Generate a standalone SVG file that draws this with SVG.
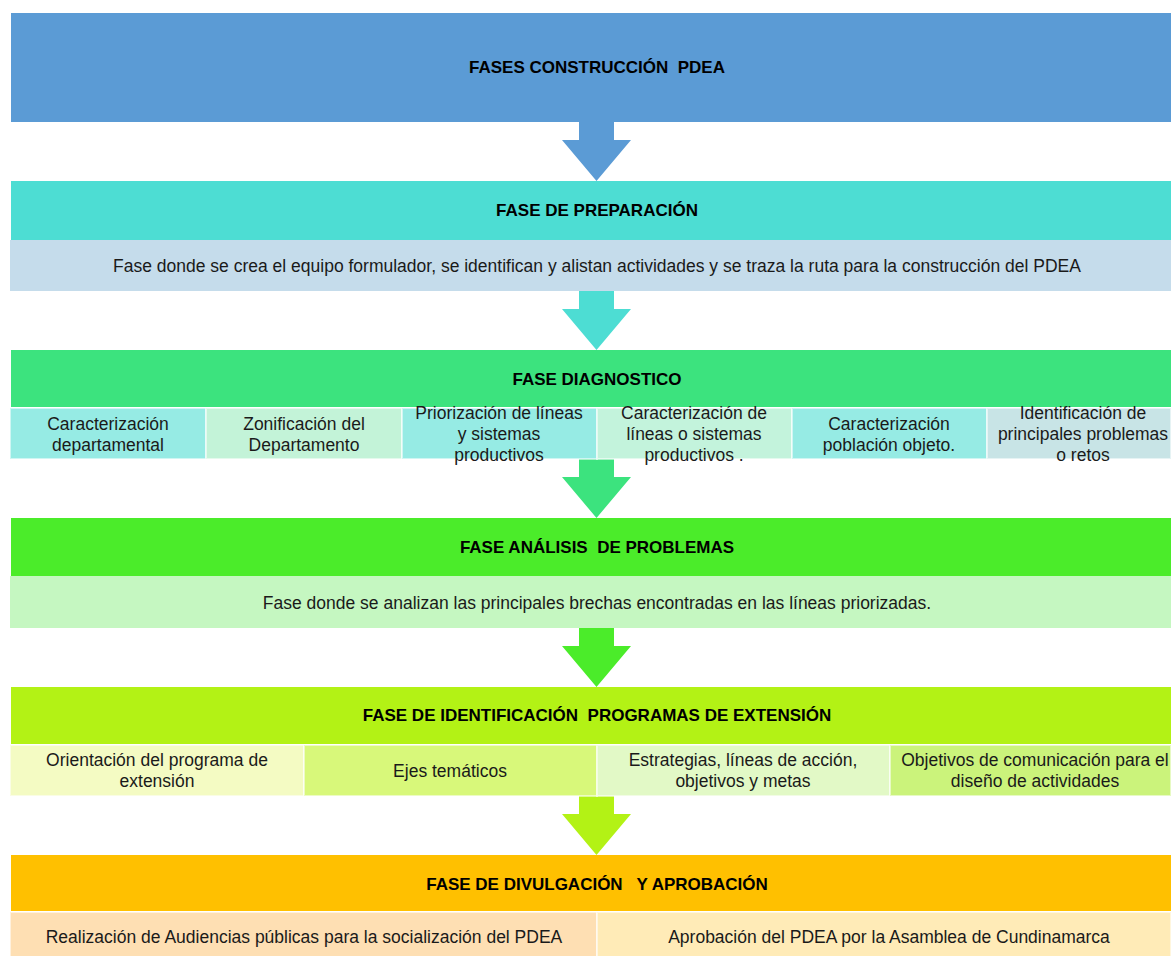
<svg xmlns="http://www.w3.org/2000/svg" width="1171" height="956" viewBox="0 0 1171 956">
<style>
text{font-family:"Liberation Sans",Arial,sans-serif;font-size:17.5px;fill:#1a1a1a;text-anchor:middle}
.t{font-weight:bold;fill:#000;font-size:17px;white-space:pre}
.c{stroke:#ffffff;stroke-opacity:0.55;stroke-width:2}
</style>
<rect width="1171" height="956" fill="#ffffff"/>
<g id="connectors">
<path d="M579,122 H614 V140 H631 L596.5,181 L562,140 H579 Z" fill="#5B9BD5"/>
<path d="M579,291 H614 V309 H631 L596.5,350 L562,309 H579 Z" fill="#4DDDD3"/>
<path d="M579,459 H614 V477 H631 L596.5,518 L562,477 H579 Z" fill="#3CE37E"/>
<path d="M579,628 H614 V646 H631 L596.5,687 L562,646 H579 Z" fill="#4BEC2A"/>
<path d="M579,796 H614 V814 H631 L596.5,855 L562,814 H579 Z" fill="#B3F215"/>
</g>
<g id="fases">
<rect x="11" y="13" width="1160" height="109" fill="#5B9BD5"/>
<text class="t" x="597" y="73" xml:space="preserve">FASES CONSTRUCCIÓN  PDEA</text>
</g>
<g id="preparacion">
<rect x="11" y="181" width="1160" height="59" fill="#4DDDD3"/>
<text class="t" x="597" y="216">FASE DE PREPARACIÓN</text>
<rect x="10" y="240" width="1161" height="51" fill="#C5DCEB"/>
<text x="597" y="272">Fase donde se crea el equipo formulador, se identifican y alistan actividades y se traza la ruta para la construcción del PDEA</text>
</g>
<g id="diagnostico">
<rect x="11" y="350" width="1160" height="57" fill="#3CE37E"/>
<text class="t" x="597" y="385">FASE DIAGNOSTICO</text>
<rect class="c" x="10" y="408" width="196" height="51" fill="#96EBE4"/>
<rect class="c" x="206" y="408" width="196" height="51" fill="#C3F3D8"/>
<rect class="c" x="402" y="408" width="195" height="51" fill="#96EBE4"/>
<rect class="c" x="597" y="408" width="195" height="51" fill="#C3F3DC"/>
<rect class="c" x="792" y="408" width="195" height="51" fill="#96EBE4"/>
<rect class="c" x="987" y="408" width="184" height="51" fill="#C8E4E6"/>
<text x="108" y="430">Caracterización</text>
<text x="108" y="451">departamental</text>
<text x="304" y="430">Zonificación del</text>
<text x="304" y="451">Departamento</text>
<text x="499" y="419">Priorización de líneas</text>
<text x="499" y="440">y sistemas</text>
<text x="499" y="461">productivos</text>
<text x="694" y="419">Caracterización de</text>
<text x="694" y="440">líneas o sistemas</text>
<text x="694" y="461">productivos .</text>
<text x="889" y="430">Caracterización</text>
<text x="889" y="451">población objeto.</text>
<text x="1083" y="419">Identificación de</text>
<text x="1083" y="440">principales problemas</text>
<text x="1083" y="461">o retos</text>
</g>
<g id="analisis">
<rect x="11" y="518" width="1160" height="58" fill="#4BEC2A"/>
<text class="t" x="597" y="553" xml:space="preserve">FASE ANÁLISIS  DE PROBLEMAS</text>
<rect x="10" y="576" width="1161" height="52" fill="#C5F7C1"/>
<text x="597" y="609">Fase donde se analizan las principales brechas encontradas en las líneas priorizadas.</text>
</g>
<g id="identificacion">
<rect x="11" y="687" width="1160" height="57" fill="#B3F215"/>
<text class="t" x="597" y="721" xml:space="preserve">FASE DE IDENTIFICACIÓN  PROGRAMAS DE EXTENSIÓN</text>
<rect class="c" x="10" y="745" width="294" height="51" fill="#F4FBC3"/>
<rect class="c" x="304" y="745" width="293" height="51" fill="#D8F87A"/>
<rect class="c" x="597" y="745" width="293" height="51" fill="#E2F9C6"/>
<rect class="c" x="890" y="745" width="281" height="51" fill="#CBF37B"/>
<text x="157" y="766">Orientación del programa de</text>
<text x="157" y="787">extensión</text>
<text x="450" y="777">Ejes temáticos</text>
<text x="743" y="766">Estrategias, líneas de acción,</text>
<text x="743" y="787">objetivos y metas</text>
<text x="1035" y="766">Objetivos de comunicación para el</text>
<text x="1035" y="787">diseño de actividades</text>
</g>
<g id="divulgacion">
<rect x="11" y="855" width="1160" height="56" fill="#FFC000"/>
<text class="t" x="597" y="890" xml:space="preserve">FASE DE DIVULGACIÓN   Y APROBACIÓN</text>
<rect class="c" x="10" y="912" width="587" height="45" fill="#FEDFB3"/>
<rect class="c" x="597" y="912" width="574" height="45" fill="#FFEBB7"/>
<text x="304" y="943">Realización de Audiencias públicas para la socialización del PDEA</text>
<text x="889" y="943">Aprobación del PDEA por la Asamblea de Cundinamarca</text>
</g>
</svg>
